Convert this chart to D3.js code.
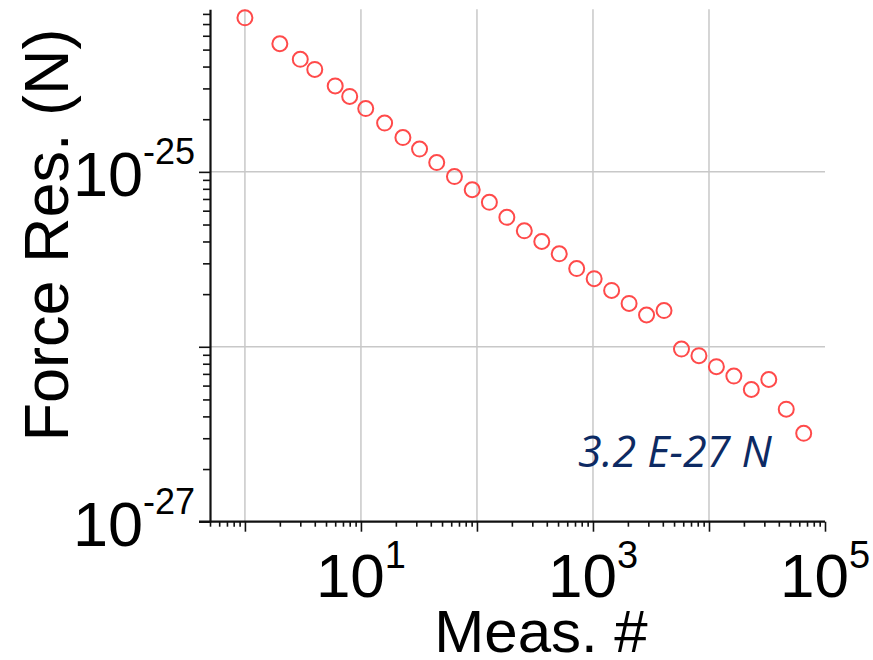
<!DOCTYPE html>
<html>
<head>
<meta charset="utf-8">
<script src="https://cdn.jsdelivr.net/npm/d3@7"></script>
<style>
  html, body { margin: 0; padding: 0; background: #fff; }
  svg { display: block; }
  text { font-family: "Liberation Sans", Arial, Helvetica, sans-serif; fill: #000; }
</style>
</head>
<body>
<svg id="chart" width="873" height="660"></svg>
<script>
// Measurement index (x) and force resolution in newtons (y)
const measNumber = [1, 2, 3, 4, 6, 8, 11, 16, 23, 32, 45, 64, 91, 128, 181, 256,
  362, 512, 724, 1024, 1448, 2048, 2896, 4096, 5793, 8192, 11585, 16384, 23170,
  32768, 46341, 65536];
const forceRes = [7.6e-25, 5.4e-25, 4.4e-25, 3.85e-25, 3.1e-25, 2.7e-25, 2.3e-25,
  1.9e-25, 1.57e-25, 1.35e-25, 1.13e-25, 9.4e-26, 7.9e-26, 6.7e-26, 5.5e-26,
  4.6e-26, 4.0e-26, 3.4e-26, 2.8e-26, 2.45e-26, 2.1e-26, 1.77e-26, 1.52e-26,
  1.61e-26, 9.7e-27, 8.9e-27, 7.7e-27, 6.8e-27, 5.7e-27, 6.5e-27, 4.4e-27, 3.2e-27];

// Axis extents, gridlines and labelled decades
const xDomain = [0.5, 1e5];
const yDomain = [1e-27, 8.5e-25];
const xGrid = [1, 10, 100, 1000, 10000];
const yGrid = [1e-26, 1e-25];
const xLabelExp = [1, 3, 5];
const yLabelExp = [-25, -27];
const xTitle = "Meas. #";
const yTitle = "Force Res. (N)";
const noteText = "3.2 E-27 N";

const svg = d3.select("#chart");
const plot = { left: 210, right: 825, top: 9.3, bottom: 521.7 };

const x = d3.scaleLog().domain(xDomain).range([plot.left, plot.right]);
const y = d3.scaleLog().domain(yDomain).range([plot.bottom, plot.top]);

const isDecade = v => Math.abs(Math.log10(v) - Math.round(Math.log10(v))) < 1e-9;

// Gridlines
svg.append("g").selectAll("line").data(xGrid).join("line")
  .attr("x1", d => x(d)).attr("x2", d => x(d))
  .attr("y1", plot.top).attr("y2", plot.bottom)
  .attr("stroke", "#c8c8c8").attr("stroke-width", 1.5);
svg.append("g").selectAll("line").data(yGrid).join("line")
  .attr("x1", plot.left).attr("x2", plot.right)
  .attr("y1", d => y(d)).attr("y2", d => y(d))
  .attr("stroke", "#c8c8c8").attr("stroke-width", 1.5);

// Bottom axis with long decade ticks and short minor ticks
const xAxisG = svg.append("g")
  .attr("transform", `translate(0,${plot.bottom})`)
  .call(d3.axisBottom(x).tickValues(x.ticks()).tickFormat("").tickSizeOuter(0));
xAxisG.select(".domain").attr("stroke", "#111").attr("stroke-width", 2.2)
  .attr("d", `M${plot.left - 11},0H${plot.right}`);
xAxisG.selectAll(".tick line").attr("stroke", "#111").attr("stroke-width", 1.6)
  .attr("y2", d => isDecade(d) ? 10 : 5);

// Left axis
const yAxisG = svg.append("g")
  .attr("transform", `translate(${plot.left},0)`)
  .call(d3.axisLeft(y).tickValues(y.ticks()).tickFormat("").tickSizeOuter(0));
yAxisG.select(".domain").attr("stroke", "#111").attr("stroke-width", 2.2);
yAxisG.selectAll(".tick line").attr("stroke", "#111").attr("stroke-width", 1.6)
  .attr("x2", d => isDecade(d) ? -11 : -7);

// Power-of-ten tick labels
const xl = svg.append("g").selectAll("text").data(xLabelExp).join("text")
  .attr("x", d => x(Math.pow(10, d)))
  .attr("y", 597)
  .attr("text-anchor", "middle")
  .style("font-size", "62px");
xl.append("tspan").text("10");
xl.append("tspan").attr("dy", -29).style("font-size", "38px").text(d => d);

const yl = svg.append("g").selectAll("text").data(yLabelExp).join("text")
  .attr("x", plot.left - 15)
  .attr("y", d => y(Math.pow(10, d)) + 24)
  .attr("text-anchor", "end")
  .style("font-size", "63px");
yl.append("tspan").text("10");
yl.append("tspan").attr("dy", -32).style("font-size", "36px").text(d => d);

// Axis titles
svg.append("text")
  .attr("x", 541).attr("y", 652)
  .attr("text-anchor", "middle")
  .style("font-size", "60px")
  .text(xTitle);
svg.append("text")
  .attr("transform", "translate(68,235) rotate(-90)")
  .attr("text-anchor", "middle")
  .style("font-size", "63px")
  .text(yTitle);

// Data points
svg.append("g").selectAll("circle")
  .data(d3.zip(measNumber, forceRes)).join("circle")
  .attr("cx", d => x(d[0]))
  .attr("cy", d => y(d[1]))
  .attr("r", 7.5)
  .attr("fill", "none")
  .attr("stroke", "#ff4a4a")
  .attr("stroke-width", 2);

// Final resolution annotation
svg.append("text")
  .attr("x", 578).attr("y", 467)
  .style("font-family", "'Open Sans', 'Noto Sans', sans-serif")
  .style("font-style", "italic")
  .style("font-size", "43px")
  .style("fill", "#0d2a63")
  .text(noteText);
</script>
</body>
</html>
